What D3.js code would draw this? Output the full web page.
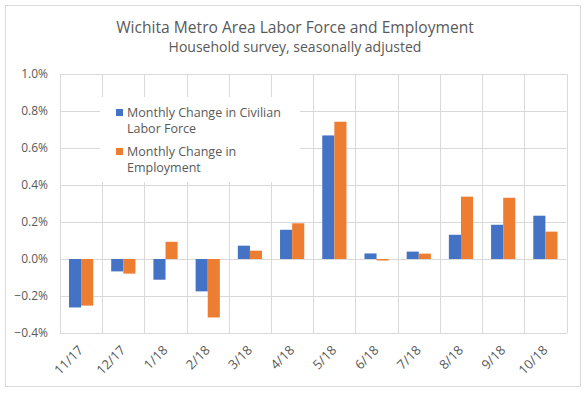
<!DOCTYPE html>
<html><head><meta charset="utf-8">
<script src="https://cdn.jsdelivr.net/npm/d3@7"></script>
<style>
html,body{margin:0;padding:0;background:#fff;}
text{font-family:"Open Sans",sans-serif;fill:#595959;}
</style></head>
<body>
<svg id="c" width="586" height="394"></svg>
<script>
const categories = ["11/17","12/17","1/18","2/18","3/18","4/18","5/18","6/18","7/18","8/18","9/18","10/18"];
const laborForce = [-0.262,-0.067,-0.112,-0.175,0.072,0.158,0.668,0.030,0.040,0.131,0.185,0.234];
const employment = [-0.252,-0.079,0.093,-0.316,0.045,0.193,0.742,-0.008,0.029,0.337,0.331,0.148];
const seriesNames = ["Monthly Change in Civilian Labor Force","Monthly Change in Employment"];
const legendLines = [["Monthly Change in Civilian","Labor Force"],["Monthly Change in","Employment"]];
const colors = ["#4472C4","#ED7D31"];
const yTicks = [-0.4,-0.2,0,0.2,0.4,0.6,0.8,1.0];
const title = "Wichita Metro Area Labor Force and Employment";
const subtitle = "Household survey, seasonally adjusted";

const svg = d3.select("#c");
svg.append("rect").attr("x",5.5).attr("y",5.5).attr("width",575).attr("height",381)
  .attr("fill","#fff").attr("stroke","#d9d9d9");

const L=60, R=566.5, T=74, B=333;
const x0 = d3.scaleBand().domain(categories).range([L,R]).padding(0);
const x1 = d3.scaleBand().domain([0,1]).range([9, x0.bandwidth()-9]).padding(0);
const y = d3.scaleLinear().domain([-0.4,1.0]).range([B,T]);

// horizontal gridlines
svg.append("g").selectAll("line").data(yTicks).join("line")
  .attr("x1",L).attr("x2",R).attr("y1",d=>Math.round(y(d))+0.5).attr("y2",d=>Math.round(y(d))+0.5)
  .attr("stroke","#d9d9d9").attr("stroke-width",1);
// vertical gridlines at category boundaries
const bounds = categories.map(c=>x0(c)).concat([R]);
svg.append("g").selectAll("line").data(bounds).join("line")
  .attr("x1",d=>Math.round(d)+0.5).attr("x2",d=>Math.round(d)+0.5).attr("y1",T).attr("y2",B)
  .attr("stroke","#d9d9d9").attr("stroke-width",1);

// y labels
const yAxis = d3.axisLeft(y).tickValues(yTicks).tickFormat(d=>d3.format(".1f")(d)+"%").tickSize(0).tickPadding(0);
const ya = svg.append("g").attr("transform",`translate(${L-12},0)`).call(yAxis);
ya.select(".domain").remove();
ya.selectAll("text").style("font-size","12px").style("font-family","'Open Sans',sans-serif").attr("fill","#595959");

// bars
const data = categories.map((c,i)=>({c, v:[laborForce[i],employment[i]]}));
const g = svg.append("g");
g.selectAll("g").data(data).join("g").attr("transform",d=>`translate(${x0(d.c)},0)`)
  .selectAll("rect").data(d=>d.v.map((v,k)=>({v,k}))).join("rect")
  .attr("x",d=>x1(d.k)).attr("width",x1.bandwidth())
  .attr("y",d=>y(Math.max(0,d.v))).attr("height",d=>Math.abs(y(d.v)-y(0)))
  .attr("fill",d=>colors[d.k]);

// x axis
const xAxis = d3.axisBottom(x0).tickSize(0).tickPadding(0);
const xa = svg.append("g").attr("transform",`translate(0,${B})`).call(xAxis);
xa.select(".domain").attr("stroke","#d9d9d9");
xa.selectAll("text").style("font-size","13px").style("font-family","'Open Sans',sans-serif").attr("fill","#595959")
  .attr("text-anchor","end").attr("dy",0).attr("y",0)
  .attr("transform","translate(3,18) rotate(-45)");

// legend
const lg = svg.append("g");
lg.append("rect").attr("x",100).attr("y",97).attr("width",200).attr("height",85).attr("fill","#fff");
legendLines.forEach((lines,k)=>{
  const by = 117 + k*39;
  lg.append("rect").attr("x",116).attr("y",by-8).attr("width",7).attr("height",7).attr("fill",colors[k]);
  lines.forEach((t,j)=>{
    lg.append("text").attr("x",127).attr("y",by+j*16).text(t).style("font-size","12.5px");
  });
});

// titles
svg.append("text").attr("x",295).attr("y",33).attr("text-anchor","middle").style("font-size","15.6px").text(title);
svg.append("text").attr("x",295).attr("y",52).attr("text-anchor","middle").style("font-size","14px").text(subtitle);
</script>
</body></html>
